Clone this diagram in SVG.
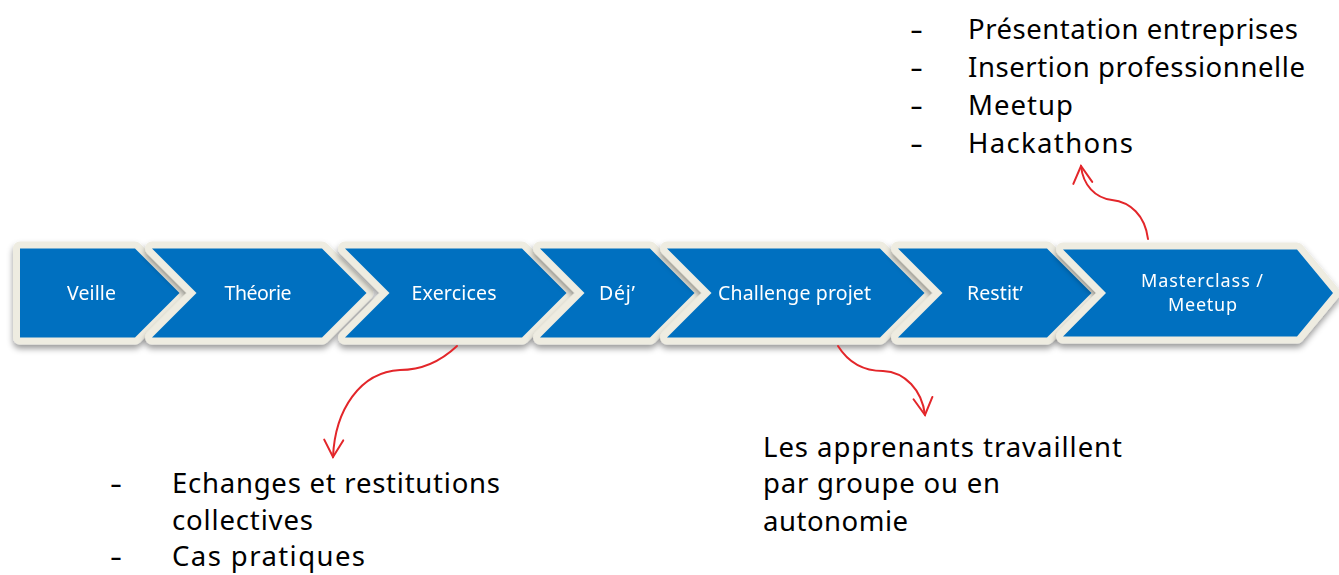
<svg xmlns="http://www.w3.org/2000/svg" xmlns:xlink="http://www.w3.org/1999/xlink" width="1339" height="575" viewBox="0 0 1339 575">
<style>
.border{fill:#EEECE1;stroke:#EEECE1;stroke-width:14;stroke-linejoin:round}
.fill{fill:#0070C0;stroke:none}
.lbl{font-family:"Noto Sans","Open Sans",sans-serif;font-size:19.5px;fill:#FFFFFF;text-anchor:middle;font-variant-ligatures:none}
.lbl2{font-size:18px}
.txt{font-family:"Noto Sans","Open Sans",sans-serif;font-size:27.5px;fill:#000000;font-variant-ligatures:none}
.conn{fill:none;stroke:#E3262A;stroke-width:2;stroke-linecap:round}
</style>
<defs>
<filter id="sh" x="-10%" y="-20%" width="120%" height="150%">
<feDropShadow dx="0" dy="4" stdDeviation="3" flood-color="#000000" flood-opacity="0.4"/>
</filter>
<marker id="arr" markerUnits="userSpaceOnUse" markerWidth="24" markerHeight="24" viewBox="-20 -12 24 24" refX="0" refY="0" orient="auto" overflow="visible">
<path d="M-17,-9.5 L0,0 L-17,9.5" fill="none" stroke="#E3262A" stroke-width="2" stroke-linecap="round" stroke-linejoin="miter"/>
</marker>
<polygon id="p1" points="20,248.5 135,248.5 179.5,293 135,337.5 20,337.5"/>
<polygon id="p2" points="152,248.5 322,248.5 366.5,293 322,337.5 152,337.5 196.5,293"/>
<polygon id="p3" points="345,248.5 522,248.5 566.5,293 522,337.5 345,337.5 389.5,293"/>
<polygon id="p4" points="540,248.5 650,248.5 694.5,293 650,337.5 540,337.5 584.5,293"/>
<polygon id="p5" points="667,248.5 880,248.5 924.5,293 880,337.5 667,337.5 711.5,293"/>
<polygon id="p6" points="898,248.5 1047,248.5 1091.5,293 1047,337.5 898,337.5 942.5,293"/>
<polygon id="p7" points="1063,249.5 1297,249.5 1333,293 1297,336.5 1063,336.5 1106,293"/>
</defs>
<rect width="1339" height="575" fill="#FFFFFF"/>
<g id="veille" filter="url(#sh)"><use xlink:href="#p1" class="border"/><use xlink:href="#p1" class="fill"/><text class="lbl" x="91.5" y="300" textLength="49">Veille</text></g>
<g id="theorie" filter="url(#sh)"><use xlink:href="#p2" class="border"/><use xlink:href="#p2" class="fill"/><text class="lbl" x="258" y="300" textLength="67">Théorie</text></g>
<g id="exercices" filter="url(#sh)"><use xlink:href="#p3" class="border"/><use xlink:href="#p3" class="fill"/><text class="lbl" x="454" y="300" textLength="85">Exercices</text></g>
<g id="dej" filter="url(#sh)"><use xlink:href="#p4" class="border"/><use xlink:href="#p4" class="fill"/><text class="lbl" x="617" y="300" textLength="36">Déj’</text></g>
<g id="challenge" filter="url(#sh)"><use xlink:href="#p5" class="border"/><use xlink:href="#p5" class="fill"/><text class="lbl" x="794.5" y="300" textLength="153">Challenge projet</text></g>
<g id="restit" filter="url(#sh)"><use xlink:href="#p6" class="border"/><use xlink:href="#p6" class="fill"/><text class="lbl" x="995" y="300" textLength="56">Restit’</text></g>
<g id="masterclass" filter="url(#sh)"><use xlink:href="#p7" class="border"/><use xlink:href="#p7" class="fill"/><text class="lbl lbl2" x="1202" y="286.5" textLength="122">Masterclass /</text><text class="lbl lbl2" x="1202.5" y="311" textLength="69">Meetup</text></g>
<g id="connectors">
<path class="conn" d="M457,346 C440,362 420,370 400,370 C360,372 335,410 333,457" marker-end="url(#arr)"/>
<path class="conn" d="M838,346 C848,362 862,371 883,371 C905,372 922,390 925,415" marker-end="url(#arr)"/>
<path class="conn" d="M1148,239 C1145,215 1130,202 1112,200 C1095,198 1083,185 1081,166" marker-end="url(#arr)"/>
</g>
<g id="top-list">
<text class="txt" x="910" y="38.5" textLength="13" lengthAdjust="spacingAndGlyphs">-</text><text class="txt" x="968" y="38.5" textLength="330">Présentation entreprises</text>
<text class="txt" x="910" y="76.5" textLength="13" lengthAdjust="spacingAndGlyphs">-</text><text class="txt" x="968" y="76.5" textLength="337">Insertion professionnelle</text>
<text class="txt" x="910" y="115" textLength="13" lengthAdjust="spacingAndGlyphs">-</text><text class="txt" x="968" y="115" textLength="105">Meetup</text>
<text class="txt" x="910" y="153" textLength="13" lengthAdjust="spacingAndGlyphs">-</text><text class="txt" x="968" y="153" textLength="165">Hackathons</text>
</g>
<g id="bottom-left-list">
<text class="txt" x="110" y="493" textLength="12" lengthAdjust="spacingAndGlyphs">-</text><text class="txt" x="172" y="493" textLength="328">Echanges et restitutions</text>
<text class="txt" x="172" y="530" textLength="141">collectives</text>
<text class="txt" x="110" y="566" textLength="12" lengthAdjust="spacingAndGlyphs">-</text><text class="txt" x="172" y="566" textLength="193">Cas pratiques</text>
</g>
<g id="bottom-right-text">
<text class="txt" x="763" y="457" textLength="359">Les apprenants travaillent</text>
<text class="txt" x="763" y="493" textLength="237">par groupe ou en</text>
<text class="txt" x="763" y="531" textLength="145">autonomie</text>
</g>
</svg>
